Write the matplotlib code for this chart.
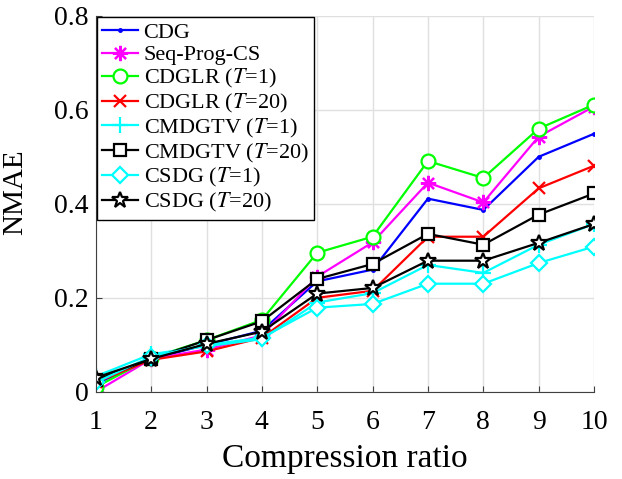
import numpy as np
import matplotlib
matplotlib.use("Agg")
import matplotlib.pyplot as plt

plt.rcParams['font.family'] = ['Liberation Serif', 'DejaVu Serif']
plt.rcParams['mathtext.fontset'] = 'stix'

# ---------------------------
# Data
# ---------------------------
ratio = [1, 2, 3, 4, 5, 6, 7, 8, 9, 10]

cdg = [0.017, 0.070, 0.100, 0.130, 0.235, 0.260, 0.411, 0.387, 0.500, 0.549]
seq_prog_cs = [0.000, 0.070, 0.090, 0.120, 0.245, 0.318, 0.445, 0.403, 0.543, 0.607]
cdglr_t1 = [0.010, 0.072, 0.110, 0.153, 0.296, 0.330, 0.491, 0.455, 0.560, 0.611]
cdglr_t20 = [0.020, 0.068, 0.086, 0.115, 0.200, 0.215, 0.330, 0.330, 0.433, 0.481]
cmdgtv_t1 = [0.033, 0.080, 0.097, 0.112, 0.190, 0.210, 0.270, 0.253, 0.313, 0.357]
cmdgtv_t20 = [0.025, 0.070, 0.110, 0.150, 0.240, 0.272, 0.336, 0.313, 0.377, 0.422]
csdg_t1 = [0.020, 0.075, 0.100, 0.115, 0.179, 0.187, 0.230, 0.230, 0.274, 0.309]
csdg_t20 = [0.030, 0.070, 0.102, 0.128, 0.209, 0.221, 0.279, 0.279, 0.317, 0.357]

labels = ["CDG", "Seq-Prog-CS", r"CDGLR ($T$=1)", r"CDGLR ($T$=20)",
          r"CMDGTV ($T$=1)", r"CMDGTV ($T$=20)", r"CSDG ($T$=1)", r"CSDG ($T$=20)"]

# ---------------------------
# Plot
# ---------------------------
fig = plt.figure(figsize=(6.22, 4.79), dpi=100)
ax = fig.add_axes([0.154, 0.182, 0.801, 0.785])

lw = 1.6
ax.plot(ratio, cdg, color='blue', lw=lw, marker='.', ms=5, label=labels[0])
ax.plot(ratio, seq_prog_cs, color='magenta', lw=lw, marker=(8, 2, 0), ms=11, mew=1.6, label=labels[1])
ax.plot(ratio, cdglr_t1, color=(0, 1, 0), lw=lw, marker='o', ms=10, mfc='white', mew=1.6, label=labels[2])
ax.plot(ratio, cdglr_t20, color='red', lw=lw, marker='x', ms=9, mew=1.6, label=labels[3])
ax.plot(ratio, cmdgtv_t1, color='cyan', lw=lw, marker='+', ms=11, mew=1.6, label=labels[4])
ax.plot(ratio, cmdgtv_t20, color='black', lw=lw, marker='s', ms=8, mfc='white', mew=1.6, label=labels[5])
ax.plot(ratio, csdg_t1, color='cyan', lw=lw, marker='D', ms=8, mfc='white', mew=1.6, label=labels[6])
ax.plot(ratio, csdg_t20, color='black', lw=lw, marker='*', ms=12, mfc='white', mew=1.6, label=labels[7])

ax.set_xlim(1, 10)
ax.set_ylim(0, 0.8)
ax.set_xticks(ratio)
ax.set_yticks([0, 0.2, 0.4, 0.6, 0.8])
ax.set_yticklabels(['0', '0.2', '0.4', '0.6', '0.8'])
ax.tick_params(direction='in', labelsize=20, color='0.25', length=4)
ax.tick_params(axis='x', pad=13)
ax.tick_params(axis='y', pad=5)
ax.grid(True, color='0.88', lw=1)
ax.set_axisbelow(True)
for side in ['top', 'right']:
    ax.spines[side].set_visible(False)
for side in ['left', 'bottom']:
    ax.spines[side].set_color('0.25')

ax.set_xlabel("Compression ratio", fontsize=24, labelpad=6)
ax.set_ylabel("NMAE", fontsize=21)
ax.yaxis.set_label_coords(-0.135, 0.53)

leg = ax.legend(loc='upper left', fontsize=16, frameon=True, fancybox=False,
                edgecolor='black', framealpha=1, handlelength=1.6,
                borderaxespad=0.05, labelspacing=0.08, handletextpad=0.25,
                borderpad=0.25)
leg.get_frame().set_linewidth(1.0)

fig.savefig("out.png", dpi=100)
